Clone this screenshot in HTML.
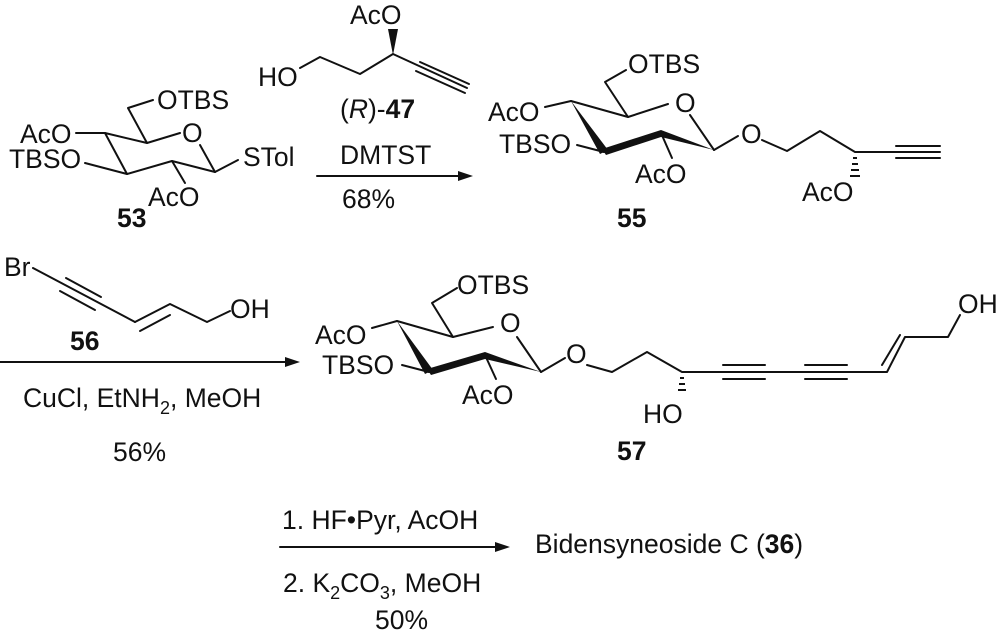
<!DOCTYPE html>
<html><head><meta charset="utf-8"><style>
html,body{margin:0;padding:0;background:#fff;}
svg{display:block;}
text{font-family:"Liberation Sans",Arial,sans-serif;font-size:23px;fill:#111;}
.a{font-size:26.5px;}
.b{font-weight:bold;}
</style></head><body>
<svg width="1000" height="640" viewBox="0 0 1000 640" xmlns="http://www.w3.org/2000/svg">
<g stroke="#111" stroke-width="2" fill="none" stroke-linecap="round" stroke-linejoin="round">
<!-- 53 -->
<polyline points="153,100 128,108 147,143 180,133"/>
<line x1="200" y1="145" x2="215" y2="172"/>
<line x1="215" y1="172" x2="238" y2="160"/>
<polyline points="215,172 172,161 127,174 105,133 147,143"/>
<line x1="105" y1="133" x2="76" y2="133"/>
<line x1="127" y1="174" x2="85" y2="163"/>
<line x1="172" y1="161" x2="185" y2="183"/>
<!-- 47 -->
<polyline points="300,68 320,57 360,74 393,54 467,88"/>
<line x1="420" y1="62" x2="469" y2="84"/>
<line x1="416" y1="71" x2="465" y2="93"/>
<!-- arrow 1 -->
<line x1="317" y1="176" x2="462" y2="176"/>
<!-- 55 -->
<polyline points="626,70 605,82 628,117 668,104"/>
<line x1="690" y1="115" x2="714" y2="150"/>
<line x1="714" y1="150" x2="738" y2="136"/>
<line x1="571" y1="101" x2="628" y2="117"/>
<line x1="571" y1="101" x2="545" y2="107"/>
<line x1="604" y1="152" x2="577" y2="145"/>
<line x1="661" y1="133" x2="672" y2="158"/>
<polyline points="762,140 787,151 820,131 855,152 940,152"/>
<line x1="896" y1="146" x2="940" y2="146"/>
<line x1="896" y1="158" x2="940" y2="158"/>
<!-- 56 -->
<line x1="33" y1="268" x2="135" y2="322"/>
<line x1="66" y1="278" x2="101" y2="297"/>
<line x1="60" y1="291" x2="95" y2="310"/>
<polyline points="135,322 170,304 207,322 230,311"/>
<line x1="140" y1="331" x2="170" y2="315"/>
<!-- arrow 2 -->
<line x1="0" y1="362" x2="288" y2="362"/>
<!-- 57 -->
<polyline points="457,288 432,303 453,337 493,327"/>
<line x1="517" y1="337" x2="541" y2="372"/>
<line x1="541" y1="372" x2="565" y2="358"/>
<line x1="397" y1="321" x2="453" y2="337"/>
<line x1="397" y1="321" x2="372" y2="328"/>
<line x1="429" y1="372" x2="402" y2="365"/>
<line x1="485" y1="355" x2="496" y2="379"/>
<polyline points="587,365 612,372 647,352 682,372 887,372 905,337 948,337 960,315"/>
<line x1="723" y1="365" x2="765" y2="365"/>
<line x1="723" y1="379" x2="765" y2="379"/>
<line x1="805" y1="365" x2="847" y2="365"/>
<line x1="805" y1="379" x2="847" y2="379"/>
<line x1="882" y1="365" x2="900" y2="335"/>
<!-- arrow 3 -->
<line x1="280" y1="547" x2="498" y2="547"/>
</g>
<g fill="#111" stroke="none">
<polygon points="393,55 388,29 398,29"/>
<polygon points="571,101 600,154 608,150"/>
<polygon points="602,149 661,130 661,137 606,155"/>
<polygon points="661,130 714,150 661,137"/>
<polygon points="397,321 425,374 433,370"/>
<polygon points="427,369 485,352 485,359 431,375"/>
<polygon points="485,352 541,372 485,359"/>
<polygon points="473,176 458,171 458,181"/>
<polygon points="300,362 285,357 285,367"/>
<polygon points="510,547 495,542 495,552"/>
</g>
<g stroke="#111" stroke-width="2">
<line x1="853" y1="158" x2="857" y2="158"/>
<line x1="852" y1="164" x2="858" y2="164"/>
<line x1="851" y1="170" x2="859" y2="170"/>
<line x1="850" y1="176" x2="860" y2="176"/>
<line x1="680" y1="378" x2="684" y2="378"/>
<line x1="679" y1="384" x2="685" y2="384"/>
<line x1="678" y1="390" x2="686" y2="390"/>
</g>
<!-- 53 labels -->
<text class="a" x="157" y="109">OTBS</text>
<text class="a" x="182" y="142">O</text>
<text class="a" x="243" y="166">STol</text>
<text class="a" x="20" y="143">AcO</text>
<text class="a" x="9" y="168">TBSO</text>
<text class="a" x="148" y="206">AcO</text>
<text x="117" y="227" class="b a">53</text>
<!-- 47 labels -->
<text class="a" x="350" y="24">AcO</text>
<text class="a" x="258" y="86">HO</text>
<text class="a" x="340" y="118">(<tspan font-style="italic">R</tspan>)-<tspan class="b">47</tspan></text>
<text class="a" x="340" y="164">DMTST</text>
<text class="a" x="342" y="208">68%</text>
<!-- 55 labels -->
<text class="a" x="628" y="73">OTBS</text>
<text class="a" x="675" y="112">O</text>
<text class="a" x="741" y="143">O</text>
<text class="a" x="488" y="121">AcO</text>
<text class="a" x="499" y="153">TBSO</text>
<text class="a" x="635" y="183">AcO</text>
<text class="a" x="802" y="201">AcO</text>
<text x="617" y="227" class="b a">55</text>
<!-- 56 -->
<text class="a" x="4" y="276">Br</text>
<text class="a" x="230" y="318">OH</text>
<text x="70" y="350" class="b a">56</text>
<text class="a" x="23" y="407">CuCl, EtNH<tspan font-size="18" dy="7">2</tspan><tspan dy="-7">, MeOH</tspan></text>
<text class="a" x="113" y="461">56%</text>
<!-- 57 labels -->
<text class="a" x="457" y="294">OTBS</text>
<text class="a" x="500" y="332">O</text>
<text class="a" x="566" y="363">O</text>
<text class="a" x="315" y="344">AcO</text>
<text class="a" x="322" y="374">TBSO</text>
<text class="a" x="462" y="404">AcO</text>
<text class="a" x="643" y="423">HO</text>
<text class="a" x="958" y="313">OH</text>
<text x="617" y="460" class="b a">57</text>
<!-- final -->
<text class="a" x="282" y="529">1. HF•Pyr, AcOH</text>
<text class="a" x="283" y="592">2. K<tspan font-size="18" dy="7">2</tspan><tspan dy="-7">CO</tspan><tspan font-size="18" dy="7">3</tspan><tspan dy="-7">, MeOH</tspan></text>
<text class="a" x="375" y="629">50%</text>
<text class="a" x="535" y="553">Bidensyneoside C (<tspan class="b">36</tspan>)</text>
</svg>
</body></html>
